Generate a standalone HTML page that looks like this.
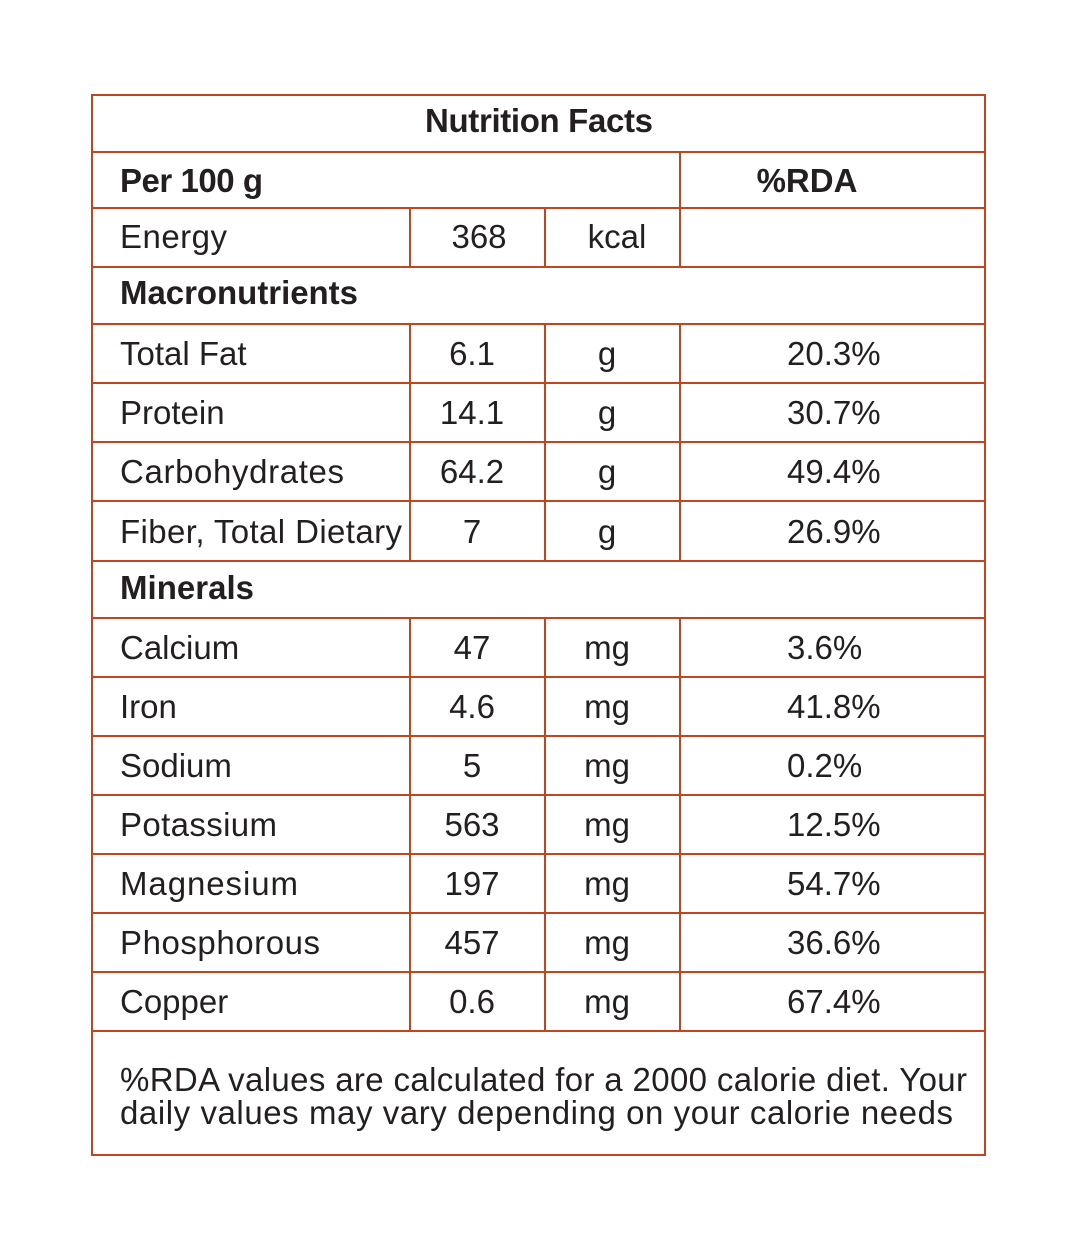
<!DOCTYPE html>
<html><head><meta charset="utf-8"><style>
html,body{margin:0;padding:0;background:#fff;}
svg{display:block;}
text{font-family:"Liberation Sans",sans-serif;font-size:33px;fill:#231f20;}
.b{font-weight:bold;}
</style></head><body>
<svg width="1080" height="1250" viewBox="0 0 1080 1250">
<g stroke="#c0461f" stroke-width="2" fill="none">
<rect x="92" y="95" width="893" height="1060"/>
<line x1="92" x2="985" y1="152" y2="152"/>
<line x1="92" x2="985" y1="208" y2="208"/>
<line x1="92" x2="985" y1="267" y2="267"/>
<line x1="92" x2="985" y1="324" y2="324"/>
<line x1="92" x2="985" y1="383" y2="383"/>
<line x1="92" x2="985" y1="442" y2="442"/>
<line x1="92" x2="985" y1="501" y2="501"/>
<line x1="92" x2="985" y1="561" y2="561"/>
<line x1="92" x2="985" y1="618" y2="618"/>
<line x1="92" x2="985" y1="677" y2="677"/>
<line x1="92" x2="985" y1="736" y2="736"/>
<line x1="92" x2="985" y1="795" y2="795"/>
<line x1="92" x2="985" y1="854" y2="854"/>
<line x1="92" x2="985" y1="913" y2="913"/>
<line x1="92" x2="985" y1="972" y2="972"/>
<line x1="92" x2="985" y1="1031" y2="1031"/>
<line x1="680" x2="680" y1="152" y2="267"/>
<line x1="410" x2="410" y1="208" y2="267"/>
<line x1="545" x2="545" y1="208" y2="267"/>
<line x1="410" x2="410" y1="324" y2="561"/>
<line x1="545" x2="545" y1="324" y2="561"/>
<line x1="680" x2="680" y1="324" y2="561"/>
<line x1="410" x2="410" y1="618" y2="1031"/>
<line x1="545" x2="545" y1="618" y2="1031"/>
<line x1="680" x2="680" y1="618" y2="1031"/>
</g>
<text class="b" x="539" y="132" text-anchor="middle" textLength="228">Nutrition Facts</text>
<text class="b" x="120" y="192" textLength="143">Per 100 g</text>
<text class="b" x="807" y="192" text-anchor="middle">%RDA</text>
<text x="120" y="248" textLength="107">Energy</text>
<text x="479" y="248" text-anchor="middle">368</text>
<text x="617" y="248" text-anchor="middle">kcal</text>
<text class="b" x="120" y="304" textLength="238">Macronutrients</text>
<text class="b" x="120" y="599" textLength="134">Minerals</text>
<g>
<text x="120" y="365">Total Fat</text><text x="472" y="365" text-anchor="middle">6.1</text><text x="607" y="365" text-anchor="middle">g</text><text x="787" y="365">20.3%</text>
<text x="120" y="424">Protein</text><text x="472" y="424" text-anchor="middle">14.1</text><text x="607" y="424" text-anchor="middle">g</text><text x="787" y="424">30.7%</text>
<text x="120" y="483" textLength="224">Carbohydrates</text><text x="472" y="483" text-anchor="middle">64.2</text><text x="607" y="483" text-anchor="middle">g</text><text x="787" y="483">49.4%</text>
<text x="120" y="543" textLength="282">Fiber, Total Dietary</text><text x="472" y="543" text-anchor="middle">7</text><text x="607" y="543" text-anchor="middle">g</text><text x="787" y="543">26.9%</text>
<text x="120" y="659">Calcium</text><text x="472" y="659" text-anchor="middle">47</text><text x="607" y="659" text-anchor="middle">mg</text><text x="787" y="659">3.6%</text>
<text x="120" y="718">Iron</text><text x="472" y="718" text-anchor="middle">4.6</text><text x="607" y="718" text-anchor="middle">mg</text><text x="787" y="718">41.8%</text>
<text x="120" y="777">Sodium</text><text x="472" y="777" text-anchor="middle">5</text><text x="607" y="777" text-anchor="middle">mg</text><text x="787" y="777">0.2%</text>
<text x="120" y="836" textLength="157">Potassium</text><text x="472" y="836" text-anchor="middle">563</text><text x="607" y="836" text-anchor="middle">mg</text><text x="787" y="836">12.5%</text>
<text x="120" y="895" textLength="178">Magnesium</text><text x="472" y="895" text-anchor="middle">197</text><text x="607" y="895" text-anchor="middle">mg</text><text x="787" y="895">54.7%</text>
<text x="120" y="954" textLength="200">Phosphorous</text><text x="472" y="954" text-anchor="middle">457</text><text x="607" y="954" text-anchor="middle">mg</text><text x="787" y="954">36.6%</text>
<text x="120" y="1013">Copper</text><text x="472" y="1013" text-anchor="middle">0.6</text><text x="607" y="1013" text-anchor="middle">mg</text><text x="787" y="1013">67.4%</text>
</g>
<text x="120" y="1091" textLength="847">%RDA values are calculated for a 2000 calorie diet. Your</text>
<text x="120" y="1124" textLength="833">daily values may vary depending on your calorie needs</text>
</svg>
</body></html>
